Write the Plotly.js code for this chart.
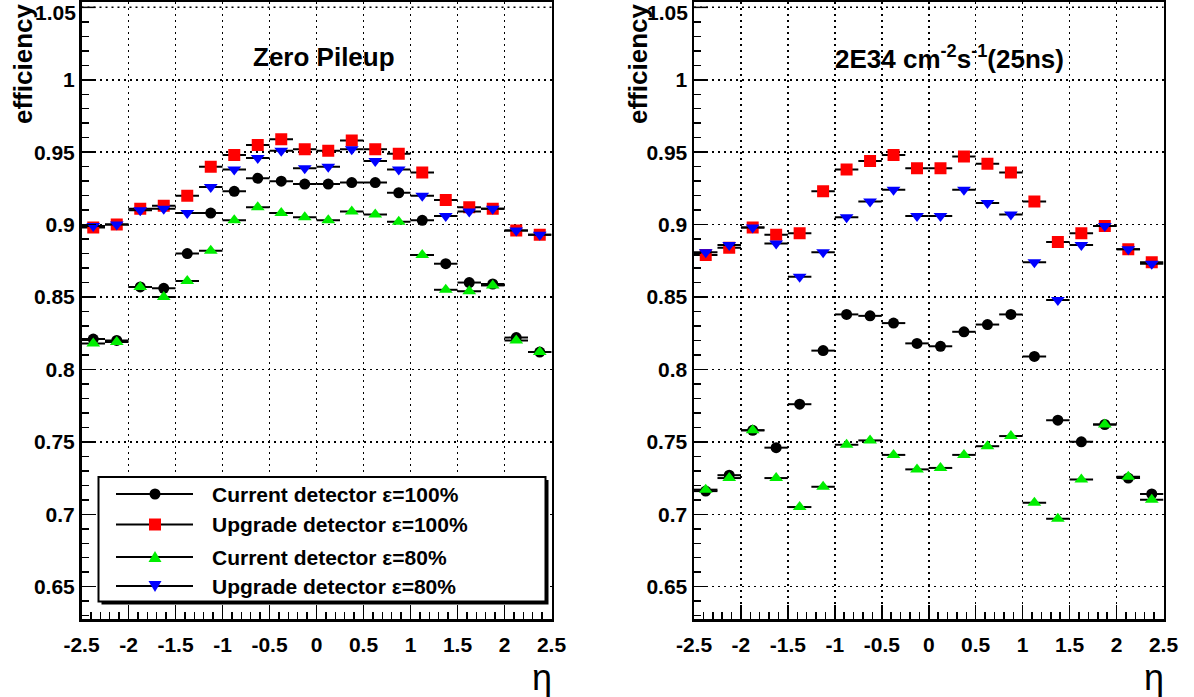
<!DOCTYPE html>
<html><head><meta charset="utf-8">
<script src="https://cdn.plot.ly/plotly-3.0.1.min.js"></script>
<style>html,body{margin:0;padding:0;background:#fff}#chart{width:1194px;height:697px}</style>
</head><body><div id="chart"></div>
<script>
// ---- data ----
const etaBins = [-2.375,-2.125,-1.875,-1.625,-1.375,-1.125,-0.875,-0.625,-0.375,-0.125,0.125,0.375,0.625,0.875,1.125,1.375,1.625,1.875,2.125,2.375];
const etaHalfWidth = 0.125;
const seriesNames = ["Current detector \u03b5=100%","Upgrade detector \u03b5=100%","Current detector \u03b5=80%","Upgrade detector \u03b5=80%"];
const seriesColors = ["#000000","#ff0000","#00ee00","#0000ff"];
const seriesSymbols = ["circle","square","triangle-up","triangle-down"];

// Zero pileup
const zeroCurrent100 = [0.821,0.820,0.857,0.856,0.880,0.908,0.923,0.932,0.930,0.928,0.928,0.929,0.929,0.922,0.903,0.873,0.860,0.859,0.822,0.812];
const zeroUpgrade100 = [0.898,0.900,0.911,0.913,0.920,0.940,0.948,0.955,0.959,0.952,0.951,0.958,0.952,0.949,0.936,0.917,0.912,0.911,0.896,0.893];
const zeroCurrent80  = [0.818,0.819,0.857,0.850,0.861,0.882,0.903,0.912,0.908,0.905,0.903,0.909,0.907,0.902,0.879,0.855,0.854,0.858,0.820,0.812];
const zeroUpgrade80  = [0.899,0.900,0.910,0.911,0.908,0.926,0.938,0.946,0.951,0.939,0.940,0.952,0.944,0.938,0.920,0.906,0.909,0.911,0.896,0.893];

// 2E34 pileup
const puCurrent100 = [0.716,0.727,0.758,0.746,0.776,0.813,0.838,0.837,0.832,0.818,0.816,0.826,0.831,0.838,0.809,0.765,0.750,0.762,0.725,0.714];
const puUpgrade100 = [0.879,0.884,0.898,0.893,0.894,0.923,0.938,0.944,0.948,0.939,0.939,0.947,0.942,0.936,0.916,0.888,0.894,0.899,0.883,0.874];
const puCurrent80  = [0.717,0.725,0.758,0.725,0.705,0.719,0.748,0.751,0.741,0.731,0.732,0.741,0.747,0.754,0.708,0.697,0.724,0.762,0.726,0.710];
const puUpgrade80  = [0.881,0.886,0.898,0.887,0.864,0.881,0.905,0.916,0.924,0.906,0.906,0.924,0.915,0.907,0.874,0.848,0.886,0.899,0.883,0.873];

const panelTitles = ["Zero Pileup", "2E34 cm<sup>-2</sup>s<sup>-1</sup>(25ns)"];
const yAxisTitle = "efficiency";
const xAxisTitle = "\u03b7";
const xTickVals = [-2.5,-2,-1.5,-1,-0.5,0,0.5,1,1.5,2,2.5];
const xTickText = ["-2.5","-2","-1.5","-1","-0.5","0","0.5","1","1.5","2","2.5"];
const yTickVals = [0.65,0.7,0.75,0.8,0.85,0.9,0.95,1.0,1.05];
const yTickText = ["0.65","0.7","0.75","0.8","0.85","0.9","0.95","1","1.05"];

// ---- layout helpers (pixel -> paper) ----
const W = 1194, H = 697;
const px = x => x / W;
const py = y => 1 - y / H;
const FONT = 'Liberation Sans, Arial, sans-serif';
const bold = (s) => '<b>' + s + '</b>';

const panels = [
  {xa: 'x', ya: 'y', series: [zeroCurrent100, zeroUpgrade100, zeroCurrent80, zeroUpgrade80]},
  {xa: 'x2', ya: 'y2', series: [puCurrent100, puUpgrade100, puCurrent80, puUpgrade80]}
];
const markerSizes = [11, 12, 12, 12];

const traces = [];
panels.forEach((p) => {
  p.series.forEach((vals, si) => {
    traces.push({
      type: 'scatter', mode: 'markers',
      x: etaBins, y: vals, xaxis: p.xa, yaxis: p.ya,
      name: seriesNames[si], showlegend: false, hoverinfo: 'skip',
      marker: {symbol: seriesSymbols[si], color: seriesColors[si], size: markerSizes[si], line: {width: 0}},
      error_x: {type: 'constant', value: etaHalfWidth, color: '#000', thickness: 2, width: 0}
    });
  });
});

// the top tick (1.05) sits at the frame edge: its label, grid line and major tick are drawn separately
const topYIndex = yTickVals.length - 1;
const topY = yTickVals[topYIndex];

const tickFont = {family: FONT, size: 21, weight: 700, color: '#000'};
function xAxis(domain, anchor) {
  return {
    domain: domain, anchor: anchor, range: [-2.5, 2.5], fixedrange: true,
    tickmode: 'array', tickvals: xTickVals, ticktext: xTickText.map(bold),
    ticks: 'inside', ticklen: 14, tickwidth: 1.5, tickcolor: '#000',
    minor: {tickmode: 'linear', tick0: 0, dtick: 0.1, ticks: 'inside', ticklen: 7, tickwidth: 1.5, tickcolor: '#000', showgrid: false},
    showgrid: true, gridcolor: '#000', gridwidth: 1.5, griddash: '2px,4px',
    zeroline: false, showline: true, linecolor: '#000', linewidth: 2.5, mirror: true,
    tickfont: tickFont, ticklabelstandoff: 5, ticklabeloverflow: 'allow'
  };
}
function yAxis(anchor) {
  return {
    domain: [py(619), py(2)], anchor: anchor, range: [0.6277, 1.0537], fixedrange: true,
    tickmode: 'array', tickvals: yTickVals.slice(0, topYIndex), ticktext: yTickText.slice(0, topYIndex).map(bold),
    ticks: 'inside', ticklen: 14, tickwidth: 1.5, tickcolor: '#000',
    minor: {tickmode: 'linear', tick0: 0, dtick: 0.01, ticks: 'inside', ticklen: 7, tickwidth: 1.5, tickcolor: '#000', showgrid: false},
    showgrid: true, gridcolor: '#000', gridwidth: 1.5, griddash: '2px,4px',
    zeroline: false, showline: true, linecolor: '#000', linewidth: 2.5, mirror: true,
    tickfont: tickFont, ticklabeloverflow: 'allow'
  };
}

const annotations = [];
const shapes = [];
const panelGeom = [{left: 81.5, right: 551.5, titleX: 324, ylabX: 23}, {left: 694, right: 1163.5, titleX: 949, ylabX: 638}];
panelGeom.forEach((g, i) => {
  const xr = i === 0 ? 'x' : 'x2', yr = i === 0 ? 'y' : 'y2';
  annotations.push({xref: 'paper', yref: 'paper', x: px(g.titleX), y: py(57), xanchor: 'center', yanchor: 'middle', showarrow: false,
    text: bold(panelTitles[i]), font: {family: FONT, size: 26, weight: 700, color: '#000'}});
  annotations.push({xref: 'paper', yref: 'paper', x: px(g.ylabX), y: py(64), xanchor: 'center', yanchor: 'middle', showarrow: false,
    textangle: -90, text: bold(yAxisTitle), font: {family: FONT, size: 26, weight: 700, color: '#000'}});
  annotations.push({xref: 'paper', yref: 'paper', x: px(g.right + 1), y: py(677.5), xanchor: 'right', yanchor: 'middle', showarrow: false,
    borderpad: 0, text: xAxisTitle, font: {family: FONT, size: 36, color: '#000'}});
  // top tick label 1.05, nudged inside the page
  annotations.push({xref: 'paper', yref: yr, x: px(g.left - 4), y: topY, xanchor: 'right', yanchor: 'middle', yshift: -5,
    showarrow: false, text: bold(yTickText[topYIndex]), font: tickFont});
  // top grid line and major tick at 1.05
  shapes.push({type: 'line', xref: xr + ' domain', yref: yr, x0: 0, x1: 1, y0: topY, y1: topY,
    line: {color: '#000', width: 1.5, dash: '2px,4px'}, layer: 'below'});
  shapes.push({type: 'line', xref: xr + ' domain', yref: yr, xsizemode: 'pixel', xanchor: 0, x0: 0, x1: 14, y0: topY, y1: topY,
    line: {color: '#000', width: 1.5}, layer: 'above'});
});

// ---- legend (drawn manually, ROOT style) ----
const legBox = {x0: 98.5, x1: 545.5, y0: 477, y1: 601.5};
const legRows = [494, 524.5, 557, 586];
const legLine = {x0: 116, x1: 193, marker: 155, text: 210};
shapes.push({type: 'rect', xref: 'paper', yref: 'paper', x0: px(legBox.x0 + 3), x1: px(legBox.x1 + 3), y0: py(legBox.y0 + 3), y1: py(legBox.y1 + 3),
  fillcolor: '#000', line: {width: 0}, layer: 'above'});
shapes.push({type: 'rect', xref: 'paper', yref: 'paper', x0: px(legBox.x0), x1: px(legBox.x1), y0: py(legBox.y0), y1: py(legBox.y1),
  fillcolor: '#fff', line: {color: '#000', width: 2}, layer: 'above'});
legRows.forEach((ry, i) => {
  shapes.push({type: 'line', xref: 'paper', yref: 'paper', x0: px(legLine.x0), x1: px(legLine.x1), y0: py(ry), y1: py(ry),
    line: {color: '#000', width: 2}, layer: 'above'});
  const base = {xref: 'paper', yref: 'paper', xsizemode: 'pixel', ysizemode: 'pixel', xanchor: px(legLine.marker), yanchor: py(ry),
    fillcolor: seriesColors[i], line: {width: 0}, layer: 'above'};
  if (seriesSymbols[i] === 'circle') shapes.push(Object.assign({type: 'circle', x0: -5.5, x1: 5.5, y0: -5.5, y1: 5.5}, base));
  else if (seriesSymbols[i] === 'square') shapes.push(Object.assign({type: 'rect', x0: -6, x1: 6, y0: -6, y1: 6}, base));
  else if (seriesSymbols[i] === 'triangle-up') shapes.push(Object.assign({type: 'path', path: 'M-6.5,-5L6.5,-5L0,6Z'}, base));
  else shapes.push(Object.assign({type: 'path', path: 'M-6.5,5L6.5,5L0,-6Z'}, base));
  annotations.push({xref: 'paper', yref: 'paper', x: px(legLine.text), y: py(ry), xanchor: 'left', yanchor: 'middle', showarrow: false,
    text: bold(seriesNames[i]), font: {family: FONT, size: 21, weight: 700, color: '#000'}});
});

const layout = {
  width: W, height: H, margin: {l: 0, r: 0, t: 0, b: 0},
  paper_bgcolor: '#fff', plot_bgcolor: 'rgba(0,0,0,0)', showlegend: false,
  xaxis: xAxis([px(81.5), px(551.5)], 'y'),
  yaxis: yAxis('x'),
  xaxis2: xAxis([px(694), px(1163.5)], 'y2'),
  yaxis2: yAxis('x2'),
  annotations: annotations, shapes: shapes
};

Plotly.newPlot('chart', traces, layout, {staticPlot: true, displayModeBar: false});
</script>
</body></html>
